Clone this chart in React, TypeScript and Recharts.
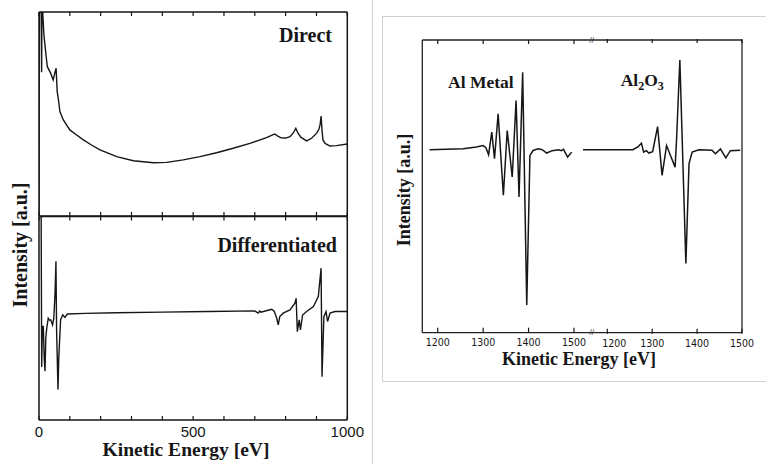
import React from 'react';
import { LineChart, Line, XAxis, YAxis } from 'recharts';

// ---------- data ----------
const directEnergy = [0, 1, 7, 8.5, 9.5, 12, 16, 22.7, 27, 38, 46, 52, 55.5, 59, 63, 68, 79, 100, 122, 144, 170, 198, 252, 306, 371, 414, 468, 522, 576, 630, 684, 738, 758, 765, 772, 785, 800, 814, 826, 833, 840, 850, 868, 884, 900, 908, 912, 915, 918, 921, 928, 944, 965, 1000];
const directIntensity = [0, 100, 100, 70.5, 100, 100, 88.7, 78.9, 73.2, 69.9, 66.7, 70.5, 72.4, 61, 57, 51.1, 47.1, 42.2, 39.7, 37.3, 34.8, 32.4, 29.1, 27.1, 26.1, 26.3, 27.5, 29.1, 31.0, 33.2, 35.6, 38.4, 39.8, 40.2, 39.4, 38.3, 38.2, 38.9, 41, 43.0, 40.6, 38.5, 36.8, 38.1, 40.5, 42.5, 45, 49.0, 42, 37.3, 35.6, 34.3, 34.5, 35.3];

const diffEnergy = [0, 7, 8.7, 11, 14, 17, 19.5, 22, 25, 30, 34, 38, 44, 48, 52, 55, 57, 61.6, 64, 70, 77, 84, 92, 150, 250, 400, 550, 700, 706, 711, 716, 720, 740, 755, 763, 771, 776, 781, 792, 814, 830, 834, 838, 844, 848, 855, 868, 890, 906, 915, 918, 924, 931, 936, 944, 960, 1000];
const diffIntensity = [100, 100, 26, 46, 46, 30, 24, 40, 45, 50, 49, 49.2, 46.7, 50, 62, 78, 45, 15, 30, 49.2, 51.7, 50.4, 52.1, 52.4, 52.7, 53, 53.3, 53.6, 53, 52.5, 53.5, 53, 53.8, 54.4, 53.5, 50, 46.7, 50.8, 52.5, 54.1, 57.4, 59.8, 43.4, 49.2, 44.3, 51.6, 53.3, 55.8, 60.7, 74.6, 21.3, 50.8, 53.3, 48.4, 52.5, 53.3, 53.3];

const metalEnergy = [1182, 1256, 1285, 1300, 1306, 1312, 1319, 1325, 1333, 1344.5, 1353, 1364, 1372.5, 1379, 1387, 1396, 1403, 1410, 1421, 1430, 1440, 1452, 1466, 1472, 1477, 1486, 1495];
const metalSignal = [0, 0.005, 0.015, 0.023, 0.011, -0.027, 0.096, -0.049, 0.196, -0.249, 0.105, -0.149, 0.269, -0.258, 0.423, -0.849, -0.031, -0.004, 0.005, 0, -0.018, -0.005, 0, -0.005, 0.002, -0.04, -0.013];

const oxideEnergy = [1146, 1257, 1268, 1276, 1281, 1287, 1292.5, 1301, 1312, 1322, 1332, 1342, 1351, 1354, 1361.6, 1375, 1382, 1389, 1404, 1433, 1441, 1452, 1464, 1474, 1496];
const oxideSignal = [0, 0, 0.015, 0.036, -0.013, -0.005, -0.018, -0.01, 0.127, -0.14, 0.023, -0.04, -0.095, 0.041, 0.491, -0.622, -0.076, -0.013, 0, -0.002, -0.022, 0.004, -0.044, -0.005, -0.003];

const surveyTicks = [0, 100, 200, 300, 400, 500, 600, 700, 800, 900, 1000];
const surveyTickLabels = [0, 500, 1000];
const metalTicks = [1200, 1300, 1400, 1500];
const oxideTicks = [1200, 1300, 1400, 1500];

// axis windows: each segment of the broken axis gets its own x scale
const surveyDomain = [0, 1000];
const metalDomain = [1166, 1870]; // 1166..1509 fills the left segment
const oxideDomain = [788, 1500]; // 1135..1500 fills the right segment

const zip = (xs: number[], ys: number[]) => xs.map((e, i) => ({ e, v: ys[i] }));
const directData = zip(directEnergy, directIntensity);
const diffData = zip(diffEnergy, diffIntensity);
const metalData = zip(metalEnergy, metalSignal);
const oxideData = zip(oxideEnergy, oxideSignal);

// ---------- styling ----------
const INK = '#161616';
const SERIF = "'Liberation Serif', 'Times New Roman', serif";
const SANS = "'Liberation Sans', Arial, sans-serif";
const NARROW = "'Liberation Sans Narrow', 'DejaVu Sans Condensed', 'Liberation Sans', sans-serif";

type TickOpts = {
  dir: number;
  len: number;
  labels?: number[];
  fontSize?: number;
  family?: string;
  baseline?: number;
  nudgeFirst?: number;
  minX?: number;
  maxX?: number;
};

function makeTick(o: TickOpts) {
  return (p: any) => {
    const { x, y, payload } = p;
    const v = Number(payload.value);
    if (o.minX !== undefined && x < o.minX) return <g />;
    if (o.maxX !== undefined && x > o.maxX) return <g />;
    const show = !!o.labels && o.labels.indexOf(v) >= 0;
    const tx = o.nudgeFirst && o.labels && v === o.labels[0] ? x + o.nudgeFirst : x;
    return (
      <g>
        <line x1={x} x2={x} y1={y} y2={y + o.dir * o.len} stroke={INK} strokeWidth={1.2} />
        {show ? (
          <text x={tx} y={y + (o.baseline || 0)} textAnchor="middle" fontSize={o.fontSize} fontFamily={o.family} fill={INK}>
            {String(v)}
          </text>
        ) : null}
      </g>
    );
  };
}

const surveyBottomPlain = makeTick({ dir: -1, len: 4 });
const surveyTopPlain = makeTick({ dir: 1, len: 4 });
const surveyBottomLabelled = makeTick({ dir: -1, len: 4, labels: surveyTickLabels, fontSize: 15, family: SANS, baseline: 16.5 });
const metalBottom = makeTick({ dir: -1, len: 5, labels: metalTicks, fontSize: 10.5, family: NARROW, baseline: 13.5, maxX: 196 });
const metalTop = makeTick({ dir: 1, len: 4, maxX: 196 });
const oxideBottom = makeTick({ dir: -1, len: 5, labels: oxideTicks, fontSize: 10.5, family: NARROW, baseline: 13.5, nudgeFirst: 7, minX: 194 });
const oxideTop = makeTick({ dir: 1, len: 4, minX: 194 });

const titleStyle = { fontFamily: SERIF, fontWeight: 700, fill: INK } as const;
const frame = { stroke: INK, strokeWidth: 1.5 };
const frameR = { stroke: '#222', strokeWidth: 1.3 };
const axisCommon = { tickLine: false, tickSize: 0, tickMargin: 0, interval: 0 as const, allowDataOverflow: true };

export default function App() {
  return (
    <div style={{ position: 'absolute', left: 0, top: 0, width: 766, height: 464, background: '#fff', overflow: 'hidden' }}>
      <div style={{ position: 'absolute', left: 372, top: 0, width: 1, height: 464, background: '#d2d2d2' }} />
      <div
        style={{
          position: 'absolute',
          left: 382,
          top: 16,
          width: 400,
          height: 364,
          borderLeft: '1px solid #d2d2d2',
          borderTop: '1px solid #d2d2d2',
          borderBottom: '1px solid #d2d2d2',
        }}
      />

      {/* Direct spectrum */}
      <div style={{ position: 'absolute', left: 0, top: 0 }}>
        <LineChart width={373} height={464} data={directData} margin={{ top: 11, right: 24.7, bottom: 247, left: 38 }}>
          <XAxis xAxisId="b" type="number" dataKey="e" domain={surveyDomain} ticks={surveyTicks} height={1} orientation="bottom"
            axisLine={frame} tick={surveyBottomPlain} {...axisCommon} />
          <XAxis xAxisId="t" type="number" dataKey="e" domain={surveyDomain} ticks={surveyTicks} height={1} orientation="top"
            axisLine={frame} tick={surveyTopPlain} {...axisCommon} />
          <YAxis yAxisId="l" type="number" domain={[0, 100]} width={1} tick={false} tickLine={false} allowDataOverflow axisLine={frame} />
          <YAxis yAxisId="r" orientation="right" type="number" domain={[0, 100]} width={1} tick={false} tickLine={false} allowDataOverflow axisLine={frame} />
          <Line xAxisId="b" yAxisId="l" type="linear" dataKey="v" stroke={INK} strokeWidth={1.4} dot={false} isAnimationActive={false} />
          <text x={332} y={41.5} textAnchor="end" fontSize={20} style={titleStyle}>Direct</text>
        </LineChart>
      </div>

      {/* Differentiated spectrum */}
      <div style={{ position: 'absolute', left: 0, top: 0 }}>
        <LineChart width={373} height={464} data={diffData} margin={{ top: 215.5, right: 24.7, bottom: 43, left: 38 }}>
          <XAxis xAxisId="b" type="number" dataKey="e" domain={surveyDomain} ticks={surveyTicks} height={1} orientation="bottom"
            axisLine={frame} tick={surveyBottomLabelled} {...axisCommon} />
          <XAxis xAxisId="t" type="number" dataKey="e" domain={surveyDomain} ticks={surveyTicks} height={1} orientation="top"
            axisLine={frame} tick={surveyTopPlain} {...axisCommon} />
          <YAxis yAxisId="l" type="number" domain={[0, 100]} width={1} tick={false} tickLine={false} allowDataOverflow axisLine={frame} />
          <YAxis yAxisId="r" orientation="right" type="number" domain={[0, 100]} width={1} tick={false} tickLine={false} allowDataOverflow axisLine={frame} />
          <Line xAxisId="b" yAxisId="l" type="linear" dataKey="v" stroke={INK} strokeWidth={1.4} dot={false} isAnimationActive={false} />
          <text x={337} y={251.5} textAnchor="end" fontSize={20} style={titleStyle}>Differentiated</text>
          <text x={186} y={455.5} textAnchor="middle" fontSize={19.5} style={titleStyle}>Kinetic Energy [eV]</text>
          <text x={20} y={245} textAnchor="middle" dominantBaseline="central" fontSize={20} style={titleStyle}
            transform="rotate(-90 20 245)">Intensity [a.u.]</text>
        </LineChart>
      </div>

      {/* Auger spectra on a broken energy axis */}
      <div style={{ position: 'absolute', left: 383, top: 17 }}>
        <LineChart width={383} height={364} margin={{ top: 21, right: 23, bottom: 46.3, left: 38.3 }}>
          <XAxis xAxisId="mb" type="number" dataKey="e" domain={metalDomain} ticks={metalTicks} height={1} orientation="bottom"
            axisLine={frameR} tick={metalBottom} {...axisCommon} />
          <XAxis xAxisId="ob" type="number" dataKey="e" domain={oxideDomain} ticks={oxideTicks} height={1} orientation="bottom"
            axisLine={false} tick={oxideBottom} {...axisCommon} />
          <XAxis xAxisId="mt" type="number" dataKey="e" domain={metalDomain} ticks={metalTicks} height={1} orientation="top"
            axisLine={frameR} tick={metalTop} {...axisCommon} />
          <XAxis xAxisId="ot" type="number" dataKey="e" domain={oxideDomain} ticks={oxideTicks} height={1} orientation="top"
            axisLine={false} tick={oxideTop} {...axisCommon} />
          <YAxis yAxisId="l" type="number" domain={[-1, 0.6]} width={1} tick={false} tickLine={false} allowDataOverflow axisLine={frameR} />
          <YAxis yAxisId="r" orientation="right" type="number" domain={[-1, 0.6]} width={1} tick={false} tickLine={false} allowDataOverflow axisLine={frameR} />
          <Line data={metalData} xAxisId="mb" yAxisId="l" type="linear" dataKey="v" stroke={INK} strokeWidth={1.5} dot={false} isAnimationActive={false} />
          <Line data={oxideData} xAxisId="ob" yAxisId="l" type="linear" dataKey="v" stroke={INK} strokeWidth={1.5} dot={false} isAnimationActive={false} />
          <text x={65} y={71} fontSize={17.5} style={titleStyle}>Al Metal</text>
          <text x={237.7} y={69} fontSize={17.5} style={titleStyle}>
            Al<tspan fontSize={12} dy={4}>2</tspan><tspan dy={-4}>O</tspan><tspan fontSize={12} dy={4}>3</tspan>
          </text>
          <text x={21} y={173} textAnchor="middle" dominantBaseline="central" fontSize={18} style={titleStyle}
            transform="rotate(-90 21 173)">Intensity [a.u.]</text>
          <text x={196} y={348} textAnchor="middle" fontSize={18} style={titleStyle}>Kinetic Energy [eV]</text>
          <text x={208.7} y={23} textAnchor="middle" dominantBaseline="central" fontSize={8} fontWeight={700} fill={INK}>//</text>
          <text x={208.7} y={315.7} textAnchor="middle" dominantBaseline="central" fontSize={8} fontWeight={700} fill={INK}>//</text>
        </LineChart>
      </div>
    </div>
  );
}
